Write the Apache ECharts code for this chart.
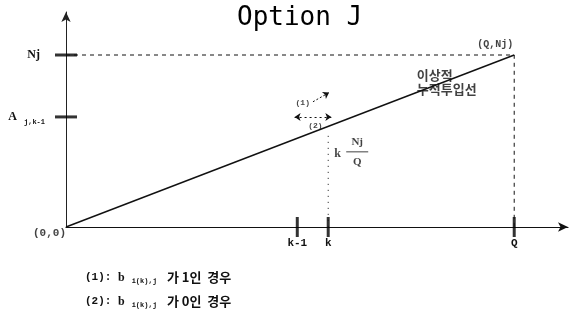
<!DOCTYPE html>
<html><head><meta charset="utf-8">
<script src="https://cdn.jsdelivr.net/npm/echarts@6/dist/echarts.min.js"></script>
<style>html,body{margin:0;background:#fff}#c{width:573px;height:321px}</style>
</head><body><div id="c"></div>
<script>
// Cumulative input: x = units processed (0..Q), y = cumulative input (0..Nj)
const Q = 100;
const NJ = 100;
const kPrev = 51.6;          // k-1
const kCur = 58.5;           // k
const aPrev = 64;            // A_{j,k-1}
const kLineTop = 53;         // top of the dotted guide at k
const xTickValues = [kPrev, kCur, Q];
const xTickLabels = ['k-1', 'k', 'Q'];
const yTickValues = [aPrev, NJ];
const yTickLabels = ['{a|A}{s| j,k-1}', '{n|Nj}'];
const idealLine = [[0, 0], [Q, NJ]];
// direction markers near the line: (1) going up along it, (2) staying flat
const markerOne = [[55.1, 72.8], [58.7, 78.2]];
const markerTwo = [[51.0, 63.9], [59.2, 63.9]];

const mono = 'Liberation Mono';
const serif = 'Liberation Serif';
const kr = 'Noto Sans CJK KR';
const chart = echarts.init(document.getElementById('c'));

const tickMap = (vals, labels) => v => {
  const i = vals.findIndex(t => Math.abs(t - v) < 1e-6);
  return i < 0 ? '' : labels[i];
};

const noteRich = {
  p: { fontFamily: mono, fontWeight: 'bold', fontSize: 11, width: 28 },
  b: { fontFamily: serif, fontWeight: 'bold', fontSize: 12, padding: [0, 0, 0, 5] },
  s: { fontFamily: mono, fontWeight: 'bold', fontSize: 7, padding: [7, 0, 0, 7] },
  k: { fontFamily: kr, fontWeight: 'bold', fontSize: 13, padding: [0, 0, 0, 10] }
};
const note = (n, v) => `{p|(${n}):}{b|b}{s|i(k),j}{k|가 ${v}인  경우}`;

chart.setOption({
  animation: false,
  grid: { left: 66, top: 12, width: 502, height: 215 },
  xAxis: {
    type: 'value', min: 0, max: 112,
    splitLine: { show: false },
    axisLine: { onZero: false, lineStyle: { color: '#111', width: 1.2 },
      symbol: ['none', 'arrow'], symbolSize: [7, 10] },
    axisTick: { show: false },
    axisLabel: { customValues: xTickValues, formatter: tickMap(xTickValues, xTickLabels),
      margin: 11, color: '#111', fontFamily: mono, fontWeight: 'bold', fontSize: 11 }
  },
  yAxis: {
    type: 'value', min: 0, max: 125,
    splitLine: { show: false },
    axisLine: { onZero: false, lineStyle: { color: '#222', width: 1 },
      symbol: ['none', 'arrow'], symbolSize: [7, 10] },
    axisTick: { show: false },
    axisLabel: { customValues: yTickValues, formatter: tickMap(yTickValues, yTickLabels),
      margin: 21, color: '#111',
      rich: {
        n: { fontFamily: serif, fontWeight: 'bold', fontSize: 12, padding: [0, 5, 0, 0] },
        a: { fontFamily: serif, fontWeight: 'bold', fontSize: 12 },
        s: { fontFamily: mono, fontWeight: 'bold', fontSize: 7, padding: [10, 0, 0, 3] }
      } }
  },
  series: [
    { type: 'line', data: idealLine, showSymbol: false, silent: true,
      lineStyle: { color: '#111', width: 1.4 } },
    // guide to Nj and down to Q
    { type: 'line', data: [[0, NJ], [Q, NJ], [Q, 0]], showSymbol: false, silent: true,
      lineStyle: { color: '#111', width: 1, type: [4, 4] } },
    // dotted guide at k
    { type: 'line', data: [[kCur, kLineTop], [kCur, 0]], showSymbol: false, silent: true,
      lineStyle: { color: '#111', width: 1, type: [1, 5] } },
    // heavy tick bars on x axis
    { type: 'scatter', data: xTickValues.map(v => [v, 0]), symbol: 'rect', symbolSize: [3, 20],
      itemStyle: { color: '#000' }, silent: true },
    // heavy tick bars on y axis
    { type: 'scatter', data: yTickValues.map(v => [0, v]), symbol: 'rect', symbolSize: [22, 3],
      itemStyle: { color: '#000' }, silent: true },
    // point labels
    { type: 'scatter', symbolSize: 0, silent: true,
      data: [
        { value: [0, 0], label: { show: true, formatter: '(0,0)', position: 'left', offset: [5, 6], fontSize: 11 } },
        { value: [Q, NJ], label: { show: true, formatter: '(Q,Nj)', position: 'top', offset: [-19, -1] } },
        { value: [kCur, kLineTop], label: { show: true, formatter: 'k', position: 'right',
            offset: [1, 18], fontFamily: serif, fontSize: 12 } },
        { value: [kCur, kLineTop], label: { show: true, formatter: '{n|Nj}\n{bar|}\n{d|Q}', position: 'right',
            offset: [24, 17], align: 'center',
            rich: { n: { fontFamily: serif, fontWeight: 'bold', fontSize: 11, align: 'center', width: 22, lineHeight: 12 },
                    bar: { width: 22, height: 1, lineHeight: 7, backgroundColor: '#111' },
                    d: { fontFamily: serif, fontWeight: 'bold', fontSize: 11, align: 'center', width: 22, lineHeight: 14 } } } },
        { value: markerOne[0], label: { show: true, formatter: '(1)', position: 'left', offset: [2, 1], fontSize: 8 } },
        { value: [55.2, 63.9], label: { show: true, formatter: '(2)', position: 'bottom', offset: [2, 0], fontSize: 8 } },
        { value: [78.5, 84], label: { show: true, formatter: '이상적\n누적투입선', position: 'right',
            offset: [-6, 0], fontFamily: kr, fontWeight: 'bold', fontSize: 13, lineHeight: 14 } }
      ],
      label: { color: '#111', fontFamily: mono, fontWeight: 'bold', fontSize: 10 } },
    { type: 'lines', coordinateSystem: 'cartesian2d', silent: true,
      symbol: ['none', 'arrow'], symbolSize: 6,
      data: [{ coords: markerOne }],
      lineStyle: { color: '#111', width: 1, opacity: 1, type: [2, 2] } },
    { type: 'lines', coordinateSystem: 'cartesian2d', silent: true,
      symbol: ['arrow', 'arrow'], symbolSize: 6,
      data: [{ coords: markerTwo }],
      lineStyle: { color: '#111', width: 1, opacity: 1, type: [2, 3] } }
  ],
  graphic: [
    { type: 'text', left: 237, top: 5, style: { text: 'Option J',
        font: '26px "DejaVu Sans Mono"', fill: '#000' }, z: 10 },
    { type: 'text', left: 85, top: 271, style: { text: note(1, '1'), fill: '#111', rich: noteRich } },
    { type: 'text', left: 85, top: 295, style: { text: note(2, '0'), fill: '#111', rich: noteRich } }
  ]
});
</script></body></html>
